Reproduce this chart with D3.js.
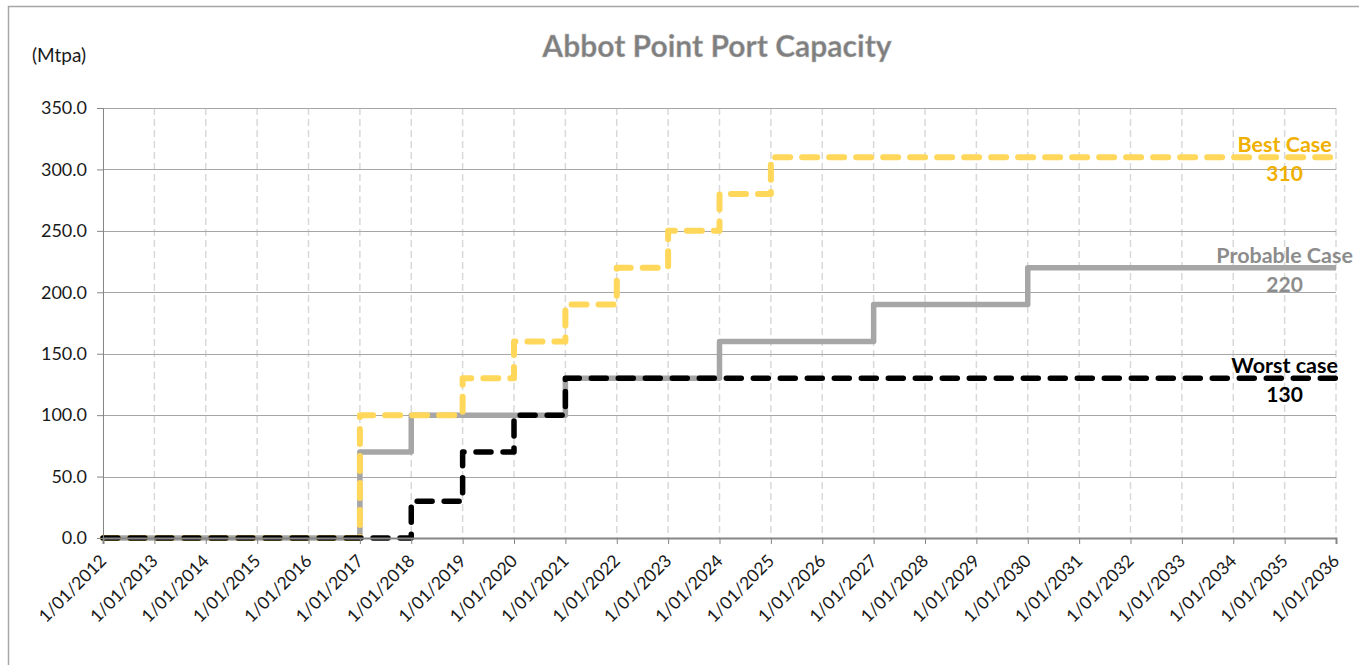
<!DOCTYPE html>
<html>
<head>
<meta charset="utf-8">
<script src="https://cdn.jsdelivr.net/npm/d3@7"></script>
<style>
    body { margin: 0; background: #fff; }
    svg { display: block; font-family: Lato, "Open Sans", sans-serif; }
</style>
</head>
<body>
<div id="chart"></div>
<script>
// years on the x axis (1 January of each year)
const years = d3.range(2012, 2037);
const yTicks = [0, 50, 100, 150, 200, 250, 300, 350];

// capacity per year, Mtpa (step after)
const bestCase     = [0, 0, 0, 0, 0, 100, 100, 130, 160, 190, 220, 250, 280, 310, 310, 310, 310, 310, 310, 310, 310, 310, 310, 310, 310];
const probableCase = [0, 0, 0, 0, 0, 70, 100, 100, 100, 130, 130, 130, 160, 160, 160, 190, 190, 190, 220, 220, 220, 220, 220, 220, 220];
const worstCase    = [0, 0, 0, 0, 0, 0, 30, 70, 100, 130, 130, 130, 130, 130, 130, 130, 130, 130, 130, 130, 130, 130, 130, 130, 130];

const seriesNames = ["Probable Case", "Best Case", "Worst case"];
const seriesValues = [probableCase, bestCase, worstCase];
const finalLabels = ["220", "310", "130"];

const width = 1359, height = 665;
const margin = {top: 108, right: 23, bottom: 127, left: 103};

const svg = d3.select("#chart").append("svg")
    .attr("width", width)
    .attr("height", height);

// outer chart border (runs off the right and bottom edges)
svg.append("rect")
    .attr("x", 8.5).attr("y", 6.5)
    .attr("width", width).attr("height", height)
    .attr("fill", "none")
    .attr("stroke", "#a6a6a6")
    .attr("stroke-width", 1.5);

const x = d3.scaleLinear()
    .domain([2012, 2036])
    .range([margin.left, width - margin.right]);

const y = d3.scaleLinear()
    .domain([0, 350])
    .range([height - margin.bottom, margin.top]);

const plot = svg.append("g");

// vertical dashed grid, one per year
plot.selectAll("line.vgrid")
    .data(years.slice(1))
    .enter().append("line")
        .attr("class", "vgrid")
        .attr("x1", d => x(d)).attr("x2", d => x(d))
        .attr("y1", y(350)).attr("y2", y(0))
        .attr("stroke", "#d9d9d9")
        .attr("stroke-width", 1.5)
        .attr("stroke-dasharray", "7,4");

// horizontal grid
plot.selectAll("line.hgrid")
    .data(yTicks.slice(1))
    .enter().append("line")
        .attr("class", "hgrid")
        .attr("x1", x(2012)).attr("x2", x(2036))
        .attr("y1", d => Math.round(y(d)) + 0.5).attr("y2", d => Math.round(y(d)) + 0.5)
        .attr("stroke", "#a6a6a6")
        .attr("stroke-width", 1);

// y axis
const yAxis = svg.append("g")
    .attr("transform", `translate(${x(2012)},0)`)
    .call(d3.axisLeft(y).tickValues(yTicks).tickFormat(d3.format(".1f")).tickSizeOuter(0).tickSize(6).tickPadding(10));
yAxis.select(".domain").attr("stroke", "#868686");
yAxis.selectAll(".tick line").attr("stroke", "#868686");
yAxis.selectAll(".tick text")
    .attr("font-size", 18)
    .attr("font-family", "Lato")
    .attr("fill", "#1a1a1a");

// x axis
const xAxis = svg.append("g")
    .attr("transform", `translate(0,${y(0)})`)
    .call(d3.axisBottom(x).tickValues(years).tickFormat(d => "1/01/" + d).tickSizeOuter(0).tickSize(6));
xAxis.select(".domain").attr("stroke", "#868686").attr("stroke-width", 2);
xAxis.selectAll(".tick line").attr("stroke", "#868686");
xAxis.selectAll(".tick text")
    .attr("font-size", 17.5)
    .attr("font-family", "Lato")
    .attr("fill", "#1a1a1a")
    .attr("text-anchor", "end")
    .attr("y", 0).attr("dy", 0)
    .attr("transform", "translate(4,24) rotate(-45)");

// the three scenarios
const line = d3.line()
    .x(d => x(d[0]))
    .y(d => y(d[1]))
    .curve(d3.curveStepAfter);

const styles = [
    {stroke: "#a6a6a6", dash: null, cap: "butt", width: 5.5, label: "#8c8c8c"},
    {stroke: "#ffd75a", dash: "15,12", cap: "round", width: 6, label: "#f0b000"},
    {stroke: "#000000", dash: "15,12", cap: "round", width: 5.5, label: "#000000"}
];

seriesValues.forEach((values, i) => {
    let s = styles[i];
    let pts = years.map((yr, j) => [yr, values[j]]);
    plot.append("path")
        .datum(pts)
        .attr("d", line)
        .attr("fill", "none")
        .attr("stroke", s.stroke)
        .attr("stroke-width", s.width)
        .attr("stroke-linecap", s.cap)
        .attr("stroke-linejoin", "round")
        .attr("stroke-dasharray", s.dash);

    // name above and value below the line end
    let last = values[values.length - 1];
    svg.append("text")
        .attr("x", x(2035)).attr("y", y(last) - 5)
        .attr("text-anchor", "middle")
        .attr("font-size", 21.5)
        .attr("font-weight", "bold")
        .attr("fill", s.label)
        .text(seriesNames[i]);
    svg.append("text")
        .attr("x", x(2035)).attr("y", y(last) + 24)
        .attr("text-anchor", "middle")
        .attr("font-size", 21)
        .attr("font-weight", "bold")
        .attr("fill", s.label)
        .text(finalLabels[i]);
});

// title and unit
svg.append("text")
    .attr("x", 717).attr("y", 57)
    .attr("text-anchor", "middle")
    .attr("font-size", 30)
    .attr("font-weight", "bold")
    .attr("fill", "#7f7f7f")
    .attr("stroke", "#bfbfbf")
    .attr("stroke-width", 0.4)
    .text("Abbot Point Port Capacity");

svg.append("text")
    .attr("x", 32).attr("y", 62)
    .attr("font-size", 19)
    .attr("fill", "#1a1a1a")
    .text("(Mtpa)");
</script>
</body>
</html>
